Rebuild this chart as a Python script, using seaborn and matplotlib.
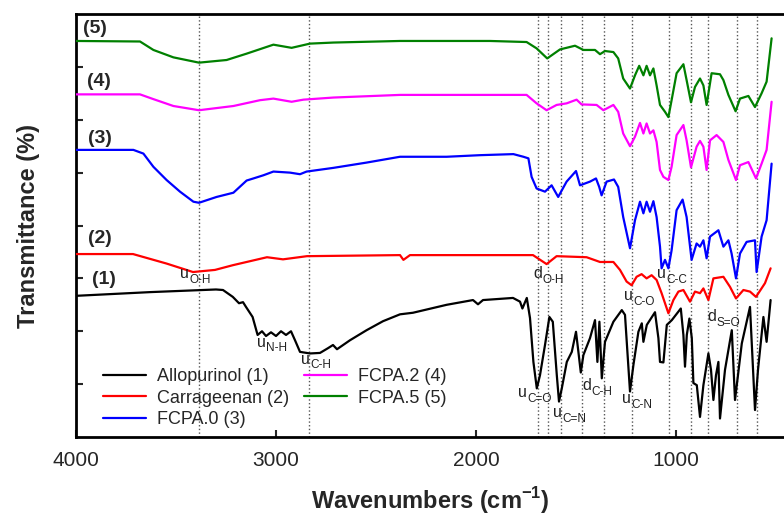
import pandas as pd
import matplotlib
matplotlib.use('Agg')
import matplotlib.pyplot as plt
import seaborn as sns

# FTIR spectra (wavenumber in cm-1, offset transmittance in arbitrary units)
wn_allo = [4000, 3630, 3300, 3265, 3216, 3185, 3165, 3150, 3117, 3092, 3070, 3050, 3025, 3000, 2975, 2950, 2925,
           2905, 2880, 2830, 2780, 2740, 2715, 2695, 2630, 2547, 2465, 2380, 2315, 2147, 2015, 1990, 1965, 1815,
           1780, 1768, 1746, 1730, 1713, 1696, 1680, 1655, 1633, 1616, 1596, 1585, 1571, 1546, 1521, 1500, 1488,
           1476, 1463, 1430, 1405, 1393, 1383, 1371, 1355, 1313, 1271, 1255, 1243, 1230, 1213, 1188, 1171, 1163,
           1146, 1105, 1088, 1080, 1063, 1046, 1021, 976, 963, 955, 946, 933, 921, 913, 896, 880, 863, 838, 825,
           813, 800, 788, 780, 755, 721, 705, 671, 630, 605, 590, 563, 547, 527]
t_allo = [2.67, 2.74, 2.79, 2.78, 2.65, 2.53, 2.55, 2.46, 2.27, 1.93, 2.00, 1.91, 1.98, 1.91, 2.00, 1.93, 2.00,
          1.83, 1.61, 1.58, 1.59, 1.68, 1.74, 1.66, 1.83, 2.02, 2.19, 2.32, 2.35, 2.50, 2.59, 2.51, 2.59, 2.63,
          2.56, 2.43, 2.63, 2.25, 1.42, 0.92, 1.17, 1.74, 2.27, 2.18, 1.17, 0.67, 0.92, 1.42, 1.61, 1.99, 1.61,
          1.22, 1.55, 1.87, 2.21, 1.42, 2.18, 1.11, 1.80, 2.18, 2.40, 2.31, 1.61, 0.86, 1.36, 1.99, 2.15, 1.80,
          2.12, 2.36, 1.87, 1.42, 1.41, 2.12, 2.21, 2.43, 1.93, 1.33, 1.93, 2.24, 1.87, 1.02, 0.98, 0.38, 0.98,
          1.58, 1.27, 0.70, 1.17, 1.42, 0.35, 1.27, 2.02, 0.70, 1.77, 2.46, 0.51, 1.27, 2.27, 1.80, 2.59]

wn_carr = [4000, 3715, 3547, 3415, 3305, 3215, 3045, 2965, 2845, 2380, 2363, 2330, 1715, 1647, 1597, 1447, 1380,
           1313, 1280, 1247, 1222, 1197, 1172, 1147, 1122, 1097, 1072, 1038, 1013, 988, 963, 930, 905, 880, 863,
           838, 813, 763, 730, 700, 663, 630, 600, 555, 527]
t_carr = [3.46, 3.46, 3.28, 3.12, 3.16, 3.25, 3.40, 3.36, 3.42, 3.44, 3.35, 3.44, 3.44, 3.27, 3.42, 3.40, 3.31,
          3.31, 3.16, 2.94, 2.87, 3.03, 3.08, 3.00, 3.06, 2.97, 2.72, 2.34, 2.59, 2.75, 2.78, 2.56, 2.75, 2.72,
          2.81, 2.59, 3.00, 3.03, 2.84, 2.62, 2.78, 2.75, 2.65, 2.91, 3.19]

wn_fcpa0 = [4000, 3713, 3663, 3613, 3547, 3480, 3413, 3385, 3297, 3213, 3147, 3113, 3063, 3013, 2930, 2880, 2847,
            2713, 2547, 2380, 2147, 1980, 1813, 1763, 1738, 1722, 1697, 1655, 1622, 1589, 1547, 1500, 1480, 1430,
            1400, 1384, 1372, 1347, 1310, 1289, 1264, 1230, 1205, 1180, 1163, 1147, 1130, 1113, 1097, 1080, 1072,
            1055, 1038, 1022, 997, 967, 947, 922, 897, 880, 863, 847, 830, 788, 763, 738, 722, 700, 680, 647, 605,
            597, 572, 547, 522]
t_fcpa0 = [5.43, 5.43, 5.36, 5.11, 4.86, 4.64, 4.45, 4.43, 4.54, 4.62, 4.85, 4.89, 4.95, 5.02, 5.00, 4.97, 5.02,
           5.09, 5.19, 5.30, 5.30, 5.33, 5.35, 5.30, 5.27, 4.92, 4.70, 4.64, 4.76, 4.54, 4.83, 5.03, 4.76, 4.83,
           4.89, 4.73, 4.57, 4.83, 4.87, 4.73, 4.16, 3.57, 4.10, 4.45, 4.23, 4.45, 4.26, 4.46, 4.16, 3.60, 3.19,
           3.35, 3.19, 3.53, 4.29, 4.49, 4.16, 3.35, 3.66, 3.60, 3.72, 3.38, 3.79, 3.91, 3.60, 3.72, 3.47, 3.00,
           3.47, 3.69, 3.72, 3.12, 3.79, 4.10, 5.17]

wn_fcpa2 = [4000, 3680, 3613, 3513, 3385, 3213, 3080, 3013, 2922, 2863, 2713, 2380, 1930, 1747, 1697, 1647, 1597,
            1547, 1497, 1472, 1397, 1363, 1313, 1289, 1264, 1230, 1205, 1180, 1163, 1147, 1130, 1113, 1097, 1080,
            1063, 1038, 1022, 997, 963, 947, 925, 897, 880, 863, 847, 830, 797, 763, 738, 700, 680, 638, 600, 572,
            547, 522]
t_fcpa2 = [6.48, 6.48, 6.39, 6.26, 6.18, 6.26, 6.37, 6.40, 6.34, 6.38, 6.42, 6.47, 6.47, 6.47, 6.31, 6.18, 6.28,
           6.31, 6.38, 6.29, 6.28, 6.18, 6.28, 6.15, 5.74, 5.50, 5.68, 5.94, 5.74, 5.93, 5.74, 5.80, 5.58, 5.05,
           4.92, 4.86, 5.11, 5.71, 5.90, 5.61, 5.10, 5.49, 5.60, 5.49, 5.05, 5.61, 5.71, 5.58, 5.24, 4.86, 5.14,
           5.20, 4.89, 5.17, 5.43, 6.34]

wn_fcpa5 = [4000, 3680, 3613, 3513, 3385, 3247, 3147, 3013, 2922, 2830, 2713, 2380, 1930, 1747, 1697, 1644, 1580,
            1505, 1463, 1405, 1380, 1355, 1313, 1289, 1264, 1230, 1205, 1184, 1163, 1147, 1130, 1113, 1097, 1080,
            1055, 1038, 1022, 997, 963, 947, 925, 905, 880, 863, 847, 822, 780, 763, 738, 702, 680, 638, 605, 572,
            547, 522]
t_fcpa5 = [7.49, 7.48, 7.32, 7.18, 7.08, 7.13, 7.25, 7.42, 7.36, 7.44, 7.46, 7.49, 7.49, 7.47, 7.35, 7.16, 7.33,
           7.40, 7.32, 7.32, 7.24, 7.30, 7.28, 7.16, 6.78, 6.59, 6.84, 7.02, 6.84, 7.02, 6.84, 6.97, 6.65, 6.28,
           6.15, 6.05, 6.37, 6.88, 7.05, 6.75, 6.33, 6.62, 6.78, 6.65, 6.28, 6.88, 6.86, 6.75, 6.47, 6.16, 6.40,
           6.45, 6.24, 6.50, 6.72, 7.54]

sample_names = ['Allopurinol (1)', 'Carrageenan (2)', 'FCPA.0 (3)', 'FCPA.2 (4)', 'FCPA.5 (5)']
sample_colors = ['black', 'red', 'blue', 'magenta', 'green']
curve_tags = ['(1)', '(2)', '(3)', '(4)', '(5)']
tag_pos = [(3920, 2.97), (3940, 3.76), (3940, 5.65), (3945, 6.73), (3965, 7.73)]

# band positions marked with dotted lines
band_lines = [3385, 2835, 1688, 1642, 1577, 1472, 1362, 1222, 1037, 925, 842, 697, 597]

# band assignments: (label, subscript, wavenumber, y)
band_labels = [('u', 'O-H', 3480, 3.01), ('u', 'N-H', 3095, 1.71), ('u', 'C-H', 2875, 1.39),
               ('d', 'O-H', 1715, 3.00), ('u', 'C=O', 1790, 0.75), ('u', 'C=N', 1615, 0.38),
               ('d', 'C-H', 1470, 0.89), ('u', 'C-N', 1270, 0.64), ('u', 'C-O', 1260, 2.59),
               ('u', 'C-C', 1095, 3.00), ('d', 'S=O', 845, 2.20)]

spectra = pd.concat([
    pd.DataFrame({'wn': wn_allo, 'T': t_allo, 'sample': sample_names[0]}),
    pd.DataFrame({'wn': wn_carr, 'T': t_carr, 'sample': sample_names[1]}),
    pd.DataFrame({'wn': wn_fcpa0, 'T': t_fcpa0, 'sample': sample_names[2]}),
    pd.DataFrame({'wn': wn_fcpa2, 'T': t_fcpa2, 'sample': sample_names[3]}),
    pd.DataFrame({'wn': wn_fcpa5, 'T': t_fcpa5, 'sample': sample_names[4]}),
], ignore_index=True)

sns.set_style('ticks')
plt.rcParams['font.family'] = ['Liberation Sans', 'DejaVu Sans']
plt.rcParams['mathtext.fontset'] = 'custom'
plt.rcParams['mathtext.rm'] = 'Liberation Sans'
plt.rcParams['mathtext.bf'] = 'Liberation Sans:bold'

fig = plt.figure(figsize=(7.84, 5.15), dpi=100)
ax = fig.add_axes([76 / 784, 78 / 515, 708 / 784, 423 / 515])

for x in band_lines:
    ax.axvline(x, color='#555555', linestyle=':', linewidth=1.0, zorder=1)

sns.lineplot(data=spectra, x='wn', y='T', hue='sample', palette=dict(zip(sample_names, sample_colors)),
             sort=False, estimator=None, linewidth=1.6, ax=ax, zorder=3)

for tag, (x, y) in zip(curve_tags, tag_pos):
    ax.text(x, y, tag, fontsize=14, fontweight='bold', ha='left', va='center')

# symbol, then subscript shifted right and down
for main, sub, x, y in band_labels:
    ax.text(x, y, main, fontsize=11.5, color='#222222', ha='left', va='baseline', zorder=4)
    ax.annotate(sub, xy=(x, y), xytext=(6.5, -3.5), textcoords='offset points', fontsize=8.5,
                color='#222222', ha='left', va='baseline', zorder=4)

ax.set_xlim(4000, 460)
ax.set_ylim(0, 8)
ax.set_xticks([4000, 3000, 2000, 1000])
ax.set_yticks(range(1, 8))
ax.set_yticklabels([])
ax.tick_params(axis='both', direction='in', length=5, width=1.5, labelsize=15, pad=10)
for side in ['left', 'bottom', 'top']:
    ax.spines[side].set_linewidth(2)
    ax.spines[side].set_color('black')
ax.spines['right'].set_visible(False)

ax.set_xlabel('Wavenumbers (cm$^{\\mathbf{-1}}$)', fontsize=17, fontweight='bold', labelpad=11)
ax.set_ylabel('Transmittance (%)', fontsize=17, fontweight='bold', labelpad=16)

ax.legend(ncol=2, loc='upper left', bbox_to_anchor=((103 - 76) / 708, (437 - 368) / 423), frameon=False,
          fontsize=13, handlelength=2.4, handletextpad=0.6, columnspacing=0.8, labelspacing=0.25,
          borderpad=0, borderaxespad=0)

fig.savefig('out.png', dpi=100)
